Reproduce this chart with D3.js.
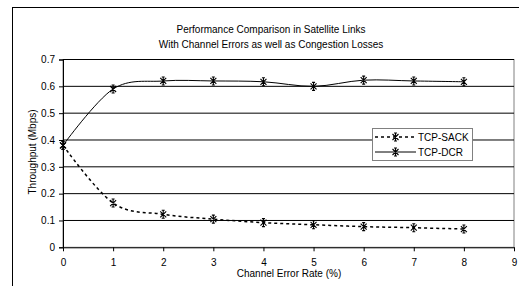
<!DOCTYPE html>
<html><head><meta charset="utf-8">
<script src="https://cdn.jsdelivr.net/npm/d3@7"></script>
<style>
body{margin:0;background:#fff;}
svg{display:block;font-family:"Liberation Sans",Arial,sans-serif;}
</style></head>
<body><svg id="c" width="519" height="286"></svg>
<script>
const errorRates = [0,1,2,3,4,5,6,7,8];
const tcpSack = [0.38,0.165,0.123,0.105,0.092,0.084,0.077,0.073,0.068];
const tcpDcr  = [0.38,0.59,0.62,0.62,0.617,0.60,0.623,0.62,0.617];
const seriesNames = ["TCP-SACK","TCP-DCR"];
const yTicks = [0,0.1,0.2,0.3,0.4,0.5,0.6,0.7];
const xTicks = [0,1,2,3,4,5,6,7,8,9];
const titleLines = ["Performance Comparison in Satellite Links","With Channel Errors as well as Congestion Losses"];

const svg = d3.select("#c");
const L=63, R=514, T=59.5, B=247.3;
const x = d3.scaleLinear().domain([0,9]).range([L,R]);
const y = d3.scaleLinear().domain([0,0.7]).range([B,T]);

// outer frame
svg.append("rect").attr("x",12.5).attr("y",7.5).attr("width",520).attr("height",290)
  .attr("fill","none").attr("stroke","#000").attr("stroke-width",1);

// title
svg.append("g").selectAll("text").data(titleLines).join("text")
  .attr("x",271).attr("y",(d,i)=>33+i*15).attr("text-anchor","middle")
  .attr("font-size",10).attr("fill","#000").text(d=>d);

// plot border (gray)
svg.append("rect").attr("x",L).attr("y",T).attr("width",R-L).attr("height",B-T)
  .attr("fill","#fff").attr("stroke","#808080").attr("stroke-width",1);

// gridlines
svg.append("g").selectAll("line").data(yTicks.filter(d=>d>0)).join("line")
  .attr("x1",L).attr("x2",R).attr("y1",d=>y(d)).attr("y2",d=>y(d))
  .attr("stroke","#000").attr("stroke-width",1);

// y axis
const yAxis = svg.append("g").attr("transform",`translate(${L},0)`)
  .call(d3.axisLeft(y).tickValues(yTicks).tickSize(4).tickPadding(4).tickFormat(d=>d===0?"0":d3.format(".1f")(d)));
yAxis.select(".domain").attr("stroke","#000");
yAxis.selectAll("line").attr("stroke","#000");
yAxis.selectAll("text").attr("font-size",10).attr("fill","#000").attr("font-family","Liberation Sans, Arial, sans-serif");

// x axis
const xAxis = svg.append("g").attr("transform",`translate(0,${B})`)
  .call(d3.axisBottom(x).tickValues(xTicks).tickSize(4).tickSizeOuter(0).tickPadding(8).tickFormat(d3.format("d")));
xAxis.select(".domain").attr("stroke","#000");
xAxis.selectAll("line").attr("stroke","#000");
xAxis.selectAll("text").attr("font-size",10).attr("fill","#000").attr("font-family","Liberation Sans, Arial, sans-serif");

// axis titles
svg.append("text").attr("x",289).attr("y",277).attr("text-anchor","middle")
  .attr("font-size",10).attr("fill","#000").text("Channel Error Rate (%)");
svg.append("text").attr("transform","translate(36,152) rotate(-90)").attr("text-anchor","middle")
  .attr("font-size",10).attr("fill","#000").text("Throughput (Mbps)");

// lines
const line = d3.line().x(d=>x(d[0])).y(d=>y(d[1])).curve(d3.curveCatmullRom.alpha(0));
const sackPts = errorRates.map((e,i)=>[e,tcpSack[i]]);
const dcrPts = errorRates.map((e,i)=>[e,tcpDcr[i]]);
svg.append("path").attr("d",line(sackPts)).attr("fill","none").attr("stroke","#000")
  .attr("stroke-width",1.5).attr("stroke-dasharray","3,3");
svg.append("path").attr("d",line(dcrPts)).attr("fill","none").attr("stroke","#000").attr("stroke-width",1);

// star marker
const star = "M-3,-3L3,3M-3,3L3,-3M0,-4L0,4M-1.5,-4L1.5,-4M-1.5,4L1.5,4";
function markers(pts){
  svg.append("g").selectAll("path").data(pts).join("path")
    .attr("transform",d=>`translate(${x(d[0])},${y(d[1])})`)
    .attr("d",star).attr("fill","none").attr("stroke","#000").attr("stroke-width",1.1);
}
markers(sackPts);
markers(dcrPts);

// legend
const lg = svg.append("g");
lg.append("rect").attr("x",372.5).attr("y",128.5).attr("width",100).attr("height",32)
  .attr("fill","#fff").attr("stroke","#808080").attr("stroke-width",1);
const entries = seriesNames.map((n,i)=>({name:n,dash:i===0?"3,3":null,w:i===0?1.5:1,yy:137+i*15}));
entries.forEach(e=>{
  lg.append("line").attr("x1",375).attr("x2",416).attr("y1",e.yy).attr("y2",e.yy)
    .attr("stroke","#000").attr("stroke-width",e.w).attr("stroke-dasharray",e.dash);
  lg.append("path").attr("transform",`translate(395.5,${e.yy})`).attr("d",star)
    .attr("fill","none").attr("stroke","#000").attr("stroke-width",1.1);
  lg.append("text").attr("x",418).attr("y",e.yy+3.5).attr("font-size",10).attr("fill","#000").text(e.name);
});
</script></body></html>
